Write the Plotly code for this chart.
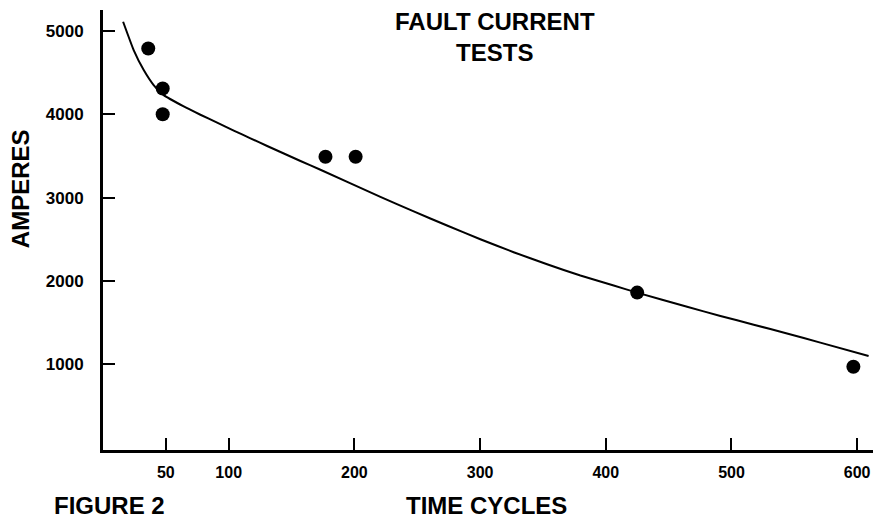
import plotly.graph_objects as go

# Measured test points (time in cycles, current in amperes)
test_cycles = [36, 47.5, 47.5, 177, 201, 425, 597]
test_amperes = [4790, 4310, 4000, 3490, 3490, 1860, 970]

# Hand-drawn fitted curve
curve_cycles = [16, 24.4, 32.4, 40.3, 48.3, 64.2, 77.5, 90.8, 104, 117.3, 130.6,
                157.1, 173, 220.7, 247.2, 273.7, 300.2, 326.7, 353.3, 379.8,
                406.3, 424.9, 464.7, 491.2, 517.7, 544.2, 570.7, 609.1]
curve_amperes = [5111, 4771, 4531, 4351, 4230, 4095, 3995, 3900, 3805, 3712, 3620,
                 3440, 3335, 3010, 2835, 2665, 2500, 2345, 2200, 2065,
                 1945, 1860, 1690, 1580, 1475, 1370, 1260, 1100]

x_ticks = [50, 100, 200, 300, 400, 500, 600]
y_ticks = [1000, 2000, 3000, 4000, 5000]

FONT = "Liberation Sans, Arial, sans-serif"

fig = go.Figure()
fig.add_trace(go.Scatter(x=curve_cycles, y=curve_amperes, mode="lines",
                         line=dict(color="black", width=2, shape="spline", smoothing=0.4),
                         hoverinfo="skip", showlegend=False))
fig.add_trace(go.Scatter(x=test_cycles, y=test_amperes, mode="markers",
                         marker=dict(color="black", size=14), showlegend=False))

fig.update_layout(
    width=873, height=520,
    margin=dict(l=103, r=0, t=10, b=70),
    paper_bgcolor="white", plot_bgcolor="white",
    font=dict(family=FONT, color="black"),
    xaxis=dict(range=[0, 612.6], tickvals=x_ticks, ticktext=[str(v) for v in x_ticks],
               showgrid=False, zeroline=False, showline=True, linecolor="black", linewidth=3,
               ticks="inside", ticklen=12, tickwidth=2, tickcolor="black",
               tickfont=dict(size=16, family=FONT, weight="bold"), ticklabelstandoff=6),
    yaxis=dict(range=[-29, 5252], tickvals=y_ticks, ticktext=[str(v) for v in y_ticks],
               showgrid=False, zeroline=False, showline=True, linecolor="black", linewidth=3,
               ticks="inside", ticklen=12, tickwidth=2, tickcolor="black",
               tickfont=dict(size=17, family=FONT, weight="bold"), ticklabelstandoff=13),
    annotations=[
        dict(text="FAULT CURRENT<br>TESTS", x=0.509, y=0.9386, xref="paper", yref="paper",
             xanchor="center", yanchor="middle", showarrow=False,
             font=dict(size=24, family=FONT, weight="bold")),
        dict(text="AMPERES", x=-0.1078, y=0.595, xref="paper", yref="paper",
             xanchor="center", yanchor="middle", showarrow=False, textangle=-90,
             font=dict(size=24, family=FONT, weight="bold")),
        dict(text="FIGURE 2", x=0.009, y=-0.127, xref="paper", yref="paper",
             xanchor="center", yanchor="middle", showarrow=False,
             font=dict(size=24, family=FONT, weight="bold")),
        dict(text="TIME CYCLES", x=0.4987, y=-0.127, xref="paper", yref="paper",
             xanchor="center", yanchor="middle", showarrow=False,
             font=dict(size=24, family=FONT, weight="bold")),
    ],
)

fig.write_html("out.html", config={"displayModeBar": False},
               post_script="document.body.style.margin='0';document.body.style.overflow='hidden';")
